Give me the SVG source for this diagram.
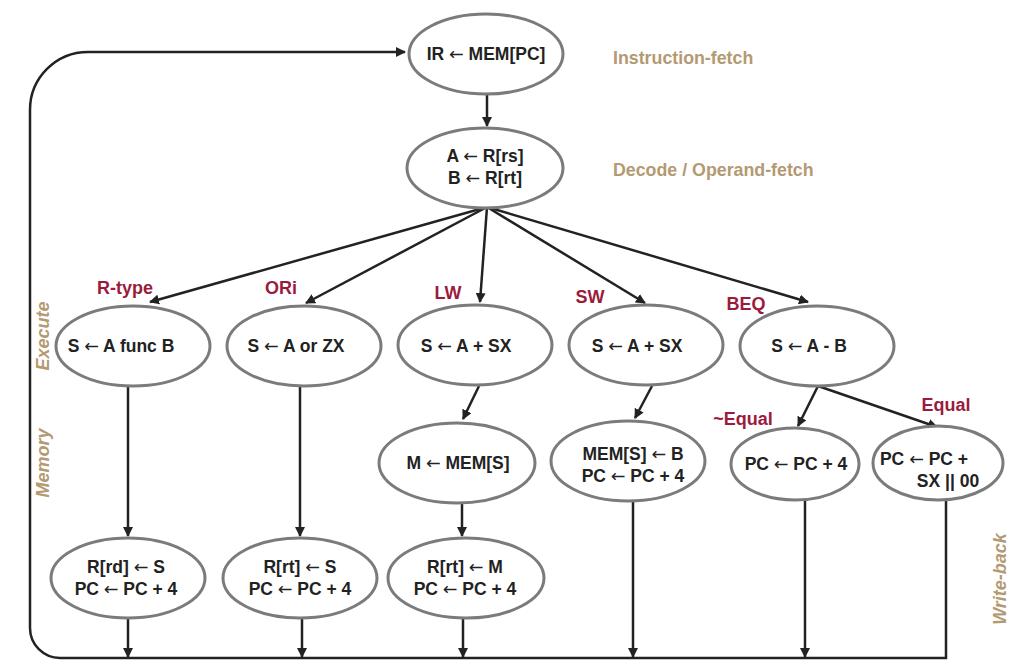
<svg xmlns="http://www.w3.org/2000/svg" width="1024" height="672" viewBox="0 0 1024 672">
<defs>
<marker id="ah" viewBox="0 0 10 10" refX="9" refY="5" markerWidth="10" markerHeight="10" markerUnits="userSpaceOnUse" orient="auto">
<path d="M0,0 L10,5 L0,10 z" fill="#222"/>
</marker>
</defs>
<style>
.n ellipse{fill:#fff;stroke:#7b7b7b;stroke-width:3}
.n text{font-family:"Liberation Sans",Arial,"DejaVu Sans",sans-serif;font-weight:bold;font-size:17.5px;fill:#222;text-anchor:middle;dominant-baseline:central}
.n tspan.r{font-family:"DejaVu Sans",sans-serif;font-weight:normal}
.c path,.c line{fill:none;stroke:#222;stroke-width:2.5}
.a{marker-end:url(#ah)}
.lbl{font-family:"Liberation Sans",Arial,sans-serif;font-weight:bold;font-size:18px;fill:#9b1b3d;text-anchor:middle}
.ph{font-family:"Liberation Sans",Arial,sans-serif;font-weight:bold;font-size:17.8px;fill:#b39a72}
.phv{font-family:"Liberation Sans",Arial,sans-serif;font-weight:bold;font-style:italic;font-size:18px;fill:#b39a72;text-anchor:middle;dominant-baseline:central}
</style>
<rect width="1024" height="672" fill="#fff"/>
<g class="c" id="connectors">
<path d="M946,500 V658 H60 A30,30 0 0 1 30,628 V110 A58,58 0 0 1 88,52 H405" class="a"/>
<line x1="487" y1="95" x2="487" y2="126" class="a"/>
<line x1="487" y1="207" x2="150" y2="302" class="a"/>
<line x1="487" y1="207" x2="306" y2="303" class="a"/>
<line x1="487" y1="207" x2="480" y2="302" class="a"/>
<line x1="487" y1="207" x2="645" y2="303" class="a"/>
<line x1="487" y1="207" x2="808" y2="302" class="a"/>
<line x1="128" y1="386" x2="128" y2="536" class="a"/>
<line x1="300" y1="386" x2="300" y2="536" class="a"/>
<line x1="479" y1="386" x2="463" y2="419" class="a"/>
<line x1="652" y1="386" x2="635" y2="418" class="a"/>
<line x1="818" y1="386" x2="798" y2="426" class="a"/>
<line x1="818" y1="386" x2="937" y2="427" class="a"/>
<line x1="462" y1="503" x2="462" y2="536" class="a"/>
<line x1="128" y1="618" x2="128" y2="657" class="a"/>
<line x1="302" y1="618" x2="302" y2="657" class="a"/>
<line x1="463" y1="618" x2="463" y2="657" class="a"/>
<line x1="633" y1="502" x2="633" y2="657" class="a"/>
<line x1="805" y1="500" x2="805" y2="657" class="a"/>
</g>
<g class="n" id="fetch"><ellipse cx="486" cy="54" rx="77" ry="40"/><text x="486" y="54">IR <tspan class="r">←</tspan> MEM[PC]</text></g>
<g class="n" id="decode"><ellipse cx="485" cy="168" rx="78" ry="40"/><text x="485" y="156">A <tspan class="r">←</tspan> R[rs]</text><text x="485" y="178">B <tspan class="r">←</tspan> R[rt]</text></g>
<g class="n" id="ex-rtype"><ellipse cx="133" cy="346" rx="77" ry="40"/><text x="121" y="346">S <tspan class="r">←</tspan> A func B</text></g>
<g class="n" id="ex-ori"><ellipse cx="304" cy="346" rx="77" ry="40"/><text x="296" y="346">S <tspan class="r">←</tspan> A or ZX</text></g>
<g class="n" id="ex-lw"><ellipse cx="475" cy="345" rx="77" ry="40"/><text x="466" y="346">S <tspan class="r">←</tspan> A + SX</text></g>
<g class="n" id="ex-sw"><ellipse cx="646" cy="345" rx="77" ry="40"/><text x="637" y="346">S <tspan class="r">←</tspan> A + SX</text></g>
<g class="n" id="ex-beq"><ellipse cx="817" cy="346" rx="77" ry="40"/><text x="809" y="346">S <tspan class="r">←</tspan> A - B</text></g>
<g class="n" id="mem-lw"><ellipse cx="457" cy="463" rx="78" ry="40"/><text x="458" y="463">M <tspan class="r">←</tspan> MEM[S]</text></g>
<g class="n" id="mem-sw"><ellipse cx="628" cy="461" rx="77" ry="40"/><text x="633" y="454">MEM[S] <tspan class="r">←</tspan> B</text><text x="633" y="476">PC <tspan class="r">←</tspan> PC + 4</text></g>
<g class="n" id="ne"><ellipse cx="795" cy="464" rx="64" ry="36"/><text x="796" y="464">PC <tspan class="r">←</tspan> PC + 4</text></g>
<g class="n" id="eq"><ellipse cx="938" cy="463" rx="65" ry="37"/><text x="924" y="459">PC <tspan class="r">←</tspan> PC +</text><text x="948" y="481">SX || 00</text></g>
<g class="n" id="wb-rtype"><ellipse cx="128" cy="578" rx="77" ry="40"/><text x="126" y="567">R[rd] <tspan class="r">←</tspan> S</text><text x="126" y="589">PC <tspan class="r">←</tspan> PC + 4</text></g>
<g class="n" id="wb-ori"><ellipse cx="300" cy="578" rx="77" ry="40"/><text x="300" y="567">R[rt] <tspan class="r">←</tspan> S</text><text x="300" y="589">PC <tspan class="r">←</tspan> PC + 4</text></g>
<g class="n" id="wb-lw"><ellipse cx="466" cy="578" rx="78" ry="40"/><text x="465" y="567">R[rt] <tspan class="r">←</tspan> M</text><text x="465" y="589">PC <tspan class="r">←</tspan> PC + 4</text></g>
<g id="labels">
<text class="lbl" x="125" y="294">R-type</text>
<text class="lbl" x="281" y="294">ORi</text>
<text class="lbl" x="448" y="299">LW</text>
<text class="lbl" x="590" y="303">SW</text>
<text class="lbl" x="746" y="310">BEQ</text>
<text class="lbl" x="743" y="425">~Equal</text>
<text class="lbl" x="946" y="411">Equal</text>
<text class="ph" x="613" y="64">Instruction-fetch</text>
<text class="ph" x="613" y="176">Decode / Operand-fetch</text>
<text class="phv" transform="rotate(-90 43 336)" x="43" y="336">Execute</text>
<text class="phv" transform="rotate(-90 43 463)" x="43" y="463">Memory</text>
<text class="phv" transform="rotate(-90 1000 579)" x="1000" y="579">Write-back</text>
</g>
</svg>
